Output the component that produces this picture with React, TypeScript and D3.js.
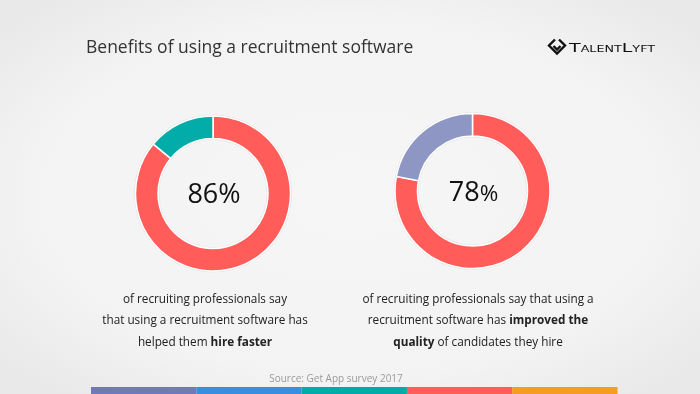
import * as d3 from "d3";

// chart values
const percents = [86, 78];
const ringColors = [
  ["#ff5c5a", "#02ada9"],
  ["#ff5c5a", "#8e97c4"],
];
const captions = [
  [[{ t: "of recruiting professionals say" }], [{ t: "that using a recruitment software has" }], [{ t: "helped them " }, { t: "hire faster", b: true }]],
  [
    [{ t: "of recruiting professionals say that using a" }],
    [{ t: "recruitment software has " }, { t: "improved the", b: true }],
    [{ t: "quality", b: true }, { t: " of candidates they hire" }],
  ],
];
const stripeColors = ["#6f7ab7", "#3a8ee0", "#00aca8", "#ff5c5a", "#f49d22"];

const W = 700;
const H = 394;
const font = "'Open Sans', sans-serif";

export default function App() {
  // donut layout
  const pie = d3.pie<number>().sort(null).value((d) => d);
  const arc = d3.arc<d3.PieArcDatum<number>>().innerRadius(55).outerRadius(77.5);
  const centers = [
    { x: 213, y: 193.5, tx: 205 },
    { x: 472.5, y: 191, tx: 478 },
  ];

  // bottom stripe
  const stripeX = d3.scaleBand<number>().domain(d3.range(stripeColors.length)).range([91, 617.5]);

  return (
    <div style={{ position: "fixed", left: 0, top: 0 }}>
      <svg width={W} height={H} style={{ display: "block" }}>
        <defs>
          <radialGradient id="bg" cx="50%" cy="50%" r="65%">
            <stop offset="0%" stopColor="#f6f6f6" />
            <stop offset="70%" stopColor="#f3f3f3" />
            <stop offset="100%" stopColor="#e9e9e9" />
          </radialGradient>
        </defs>
        <rect width={W} height={H} fill="url(#bg)" />

        <text x={86} y={53} fontFamily={font} fontSize={17.5} fill="#333">
          Benefits of using a recruitment software
        </text>

        {/* logo */}
        <g transform="translate(557,47)" fill="none" stroke="#111" strokeWidth={2.4} strokeLinejoin="miter">
          <path d="M-2,-7.5 L-8,-1.5 L0,6.5 L8,-1.5 L2,-7.5" />
          <path d="M-3.5,-1 L0,2.5 L3.5,-1" />
        </g>
        <text
          x={569}
          y={51.5}
          fontFamily="'DejaVu Sans', sans-serif"
          fontSize={12}
          fill="#111"
          style={{ fontVariant: "small-caps" }}
          textLength={86}
          lengthAdjust="spacingAndGlyphs"
        >
          TalentLyft
        </text>

        {percents.map((p, i) => {
          const c = centers[i];
          const arcs = pie([p, 100 - p]);
          return (
            <g key={i}>
              <circle cx={c.x} cy={c.y} r={78.3} fill="none" stroke="#e2e2e2" strokeWidth={1} />
              <circle cx={c.x} cy={c.y} r={54.3} fill="none" stroke="#e2e2e2" strokeWidth={1} />
              <g transform={`translate(${c.x},${c.y})`}>
                {arcs.map((a, j) => (
                  <path key={j} d={arc(a) || ""} fill={ringColors[i][j]} stroke="#fff" strokeWidth={1.5} />
                ))}
                <text x={1} y={9.5} textAnchor="middle" fontFamily={font} fontSize={27} fill="#111">
                  {p}
                  <tspan fontSize={i === 1 ? 22.5 : 27}>%</tspan>
                </text>
              </g>
              {captions[i].map((line, k) => (
                <text
                  key={k}
                  x={c.tx}
                  y={302.5 + k * 21.5}
                  textAnchor="middle"
                  fontFamily={font}
                  fontSize={11.75}
                  fill="#222"
                >
                  {line.map((s, m) => (
                    <tspan key={m} fontWeight={s.b ? 700 : 400}>
                      {s.t}
                    </tspan>
                  ))}
                </text>
              ))}
            </g>
          );
        })}

        <text x={336} y={382} textAnchor="middle" fontFamily={font} fontSize={10} fill="#9a9a9a">
          Source: Get App survey 2017
        </text>

        {stripeColors.map((col, i) => (
          <rect key={i} x={stripeX(i)} y={387} width={stripeX.bandwidth()} height={7} fill={col} />
        ))}
      </svg>
    </div>
  );
}
